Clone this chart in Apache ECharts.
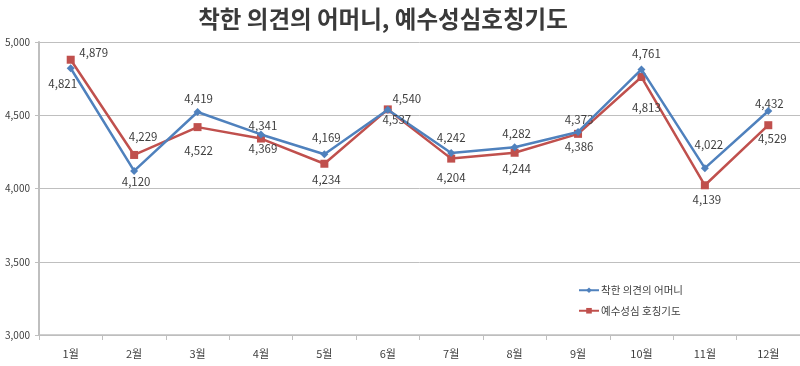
<!DOCTYPE html>
<html>
<head>
<meta charset="utf-8">
<script src="https://cdn.jsdelivr.net/npm/echarts@6/dist/echarts.min.js"></script>
<style>
html,body{margin:0;padding:0;background:#fff;}
#c{width:800px;height:366px;}
</style>
</head>
<body>
<div id="c"></div>
<script>
const titleText = '착한 의견의 어머니, 예수성심호칭기도';
const categories = ['1월','2월','3월','4월','5월','6월','7월','8월','9월','10월','11월','12월'];
const seriesNames = ['착한 의견의 어머니', '예수성심 호칭기도'];
const blueValues = [4821, 4120, 4522, 4369, 4234, 4537, 4242, 4282, 4386, 4813, 4139, 4529];
const redValues  = [4879, 4229, 4419, 4341, 4169, 4540, 4204, 4244, 4373, 4761, 4022, 4432];
const yTicks = [3000, 3500, 4000, 4500, 5000];

// label placement (pixel offsets of each value label from its point)
const blueLabelShift = [[-8,15],[2,11],[1,39],[2,14],[2,25],[9,10],[0,-15],[2,-14],[1,15],[5,38],[2,31],[4,28]];
const redLabelShift  = [[23,-7],[9,-18],[1,-28],[2,-13],[2,-26],[19,-11],[0,19],[2,16],[1,-14],[5,-23],[4,-41],[1,-22]];

const FONT = '"Noto Sans CJK KR", "Noto Sans", sans-serif';
const TXT = '#404040';

function mkData(vals, shifts) {
  return vals.map((v, i) => ({
    value: v,
    label: { position: 'inside', offset: shifts[i] }
  }));
}

const chart = echarts.init(document.getElementById('c'), null, {renderer: 'canvas'});
chart.setOption({
  animation: false,
  backgroundColor: '#ffffff',
  title: {
    text: titleText,
    left: 378, top: 2, textAlign: 'center',
    textStyle: { fontFamily: FONT, fontSize: 23.5, fontWeight: 'bold', color: '#3a3a3a' }
  },
  legend: {
    orient: 'vertical',
    left: 573, top: 280,
    itemWidth: 20, itemHeight: 7, itemGap: 10,
    textStyle: { fontFamily: FONT, fontSize: 10.5, color: TXT, padding: [0,0,0,-3] },
    data: seriesNames
  },
  grid: { left: 39, right: 0, top: 42, bottom: 31, containLabel: false },
  xAxis: {
    type: 'category',
    data: categories,
    boundaryGap: true,
    axisLine: { lineStyle: { color: '#bfbfbf', width: 1.5 } },
    axisTick: { show: true, length: 5, lineStyle: { color: '#bfbfbf' } },
    axisLabel: { fontFamily: FONT, fontSize: 11, color: TXT, margin: 13 }
  },
  yAxis: {
    type: 'value',
    min: yTicks[0], max: yTicks[yTicks.length - 1], interval: 500,
    axisLine: { show: true, lineStyle: { color: '#bfbfbf', width: 2 } },
    axisTick: { show: true, length: 4, lineStyle: { color: '#bfbfbf' } },
    splitLine: { lineStyle: { color: '#bfbfbf', width: 1 } },
    axisLabel: {
      fontFamily: FONT, fontSize: 10, color: TXT, margin: 9,
      formatter: v => v.toLocaleString('en-US')
    }
  },
  series: [
    {
      name: seriesNames[0], type: 'line',
      data: mkData(blueValues, blueLabelShift),
      symbol: 'diamond', symbolSize: 8,
      itemStyle: { color: '#4F81BD' },
      lineStyle: { color: '#4F81BD', width: 2.5 },
      label: {
        show: true, fontFamily: FONT, fontSize: 11.5, color: TXT,
        formatter: p => p.value.toLocaleString('en-US')
      },
      z: 3
    },
    {
      name: seriesNames[1], type: 'line',
      data: mkData(redValues, redLabelShift),
      symbol: 'rect', symbolSize: 8,
      itemStyle: { color: '#C0504D' },
      lineStyle: { color: '#C0504D', width: 2.5 },
      label: {
        show: true, fontFamily: FONT, fontSize: 11.5, color: TXT,
        formatter: p => p.value.toLocaleString('en-US')
      },
      z: 2
    }
  ]
});
</script>
</body>
</html>
